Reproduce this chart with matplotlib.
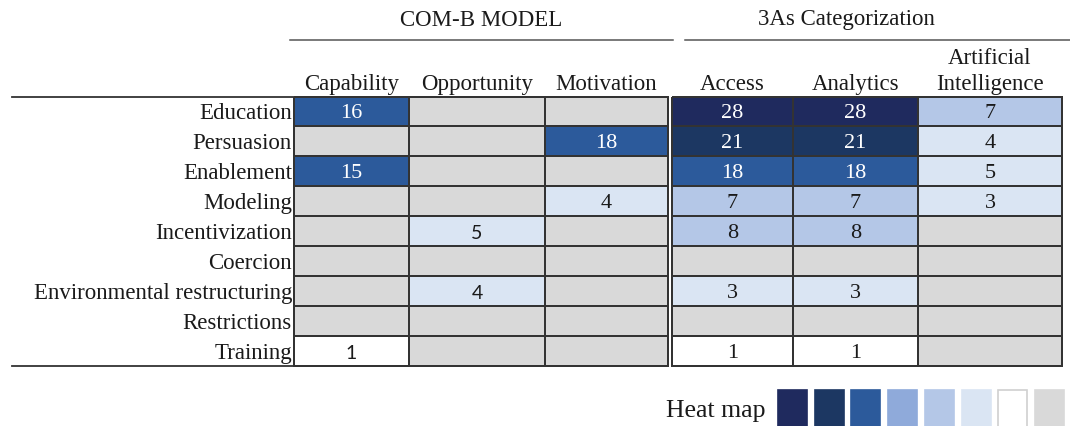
import matplotlib.pyplot as plt
import numpy as np
from matplotlib.colors import ListedColormap, BoundaryNorm
from matplotlib.patches import Rectangle

rows = ["Education", "Persuasion", "Enablement", "Modeling", "Incentivization",
        "Coercion", "Environmental restructuring", "Restrictions", "Training"]
comb_cols = ["Capability", "Opportunity", "Motivation"]
three_as_cols = ["Access", "Analytics", "Artificial\nIntelligence"]

nan = np.nan
comb_values = np.array([
    [16, nan, nan],
    [nan, nan, 18],
    [15, nan, nan],
    [nan, nan, 4],
    [nan, 5, nan],
    [nan, nan, nan],
    [nan, 4, nan],
    [nan, nan, nan],
    [1, nan, nan],
])
three_as_values = np.array([
    [28, 28, 7],
    [21, 21, 4],
    [18, 18, 5],
    [7, 7, 3],
    [8, 8, nan],
    [nan, nan, nan],
    [3, 3, nan],
    [nan, nan, nan],
    [1, 1, nan],
])

# heat map bins, light to dark
bin_edges = [0.5, 2, 6, 9, 15, 20, 25, 30]
bin_colors = ["#ffffff", "#dae5f3", "#b4c7e7", "#8faada", "#2c5a9b", "#1c3762", "#1f2a5e"]
empty_color = "#d9d9d9"

cmap = ListedColormap(bin_colors)
cmap.set_bad(empty_color)
norm = BoundaryNorm(bin_edges, cmap.N)

serif = "Liberation Serif"
sans = "Lato"
# cells whose numbers are set in a sans font in the original
sans_cells = {("comb", 4, 1), ("comb", 6, 1), ("comb", 8, 0)}

fig = plt.figure(figsize=(10.7, 4.27), dpi=100)
ax = fig.add_axes([0, 0, 1, 1])
ax.set_xlim(0, 1070)
ax.set_ylim(427, 0)
ax.axis("off")

y_edges = np.linspace(97.5, 367, len(rows) + 1)
y_mid = (y_edges[:-1] + y_edges[1:]) / 2
line_col = "#333333"
txt_col = "#1a1a1a"

blocks = [
    ("comb", comb_values, np.array([294, 409, 545, 668]), comb_cols),
    ("3as", three_as_values, np.array([672, 793, 918, 1062]), three_as_cols),
]

for name, vals, x_edges, cols in blocks:
    ax.pcolormesh(x_edges, y_edges, np.ma.masked_invalid(vals), cmap=cmap, norm=norm,
                  edgecolors=line_col, linewidth=1.1)
    x_mid = (x_edges[:-1] + x_edges[1:]) / 2
    for j, c in enumerate(cols):
        ax.text(x_mid[j], 90, c, ha="center", va="baseline", fontsize=16.5,
                family=serif, color=txt_col, linespacing=1.3)
    for i in range(vals.shape[0]):
        for j in range(vals.shape[1]):
            v = vals[i, j]
            if np.isnan(v):
                continue
            fam = sans if (name, i, j) in sans_cells else serif
            col = "white" if v >= 15 else txt_col
            ax.text(x_mid[j], y_mid[i] + 1, str(int(v)), ha="center", va="center",
                    fontsize=16 if fam == serif else 14, family=fam, color=col)

# row labels and the rules to their left
for i, r in enumerate(rows):
    ax.text(292, y_mid[i] + 1, r, ha="right", va="center", fontsize=16.5,
            family=serif, color=txt_col)
ax.plot([12, 294], [y_edges[0], y_edges[0]], color=line_col, lw=1.3)
ax.plot([12, 294], [y_edges[-1], y_edges[-1]], color=line_col, lw=1.3)

# group headers
ax.text(481, 20, "COM-B MODEL", ha="center", va="center", fontsize=16.5,
        family=serif, color=txt_col)
ax.plot([290, 673], [40.5, 40.5], color="#555555", lw=1.1)
ax.text(846, 19, "3As Categorization", ha="center", va="center", fontsize=16.5,
        family=serif, color=txt_col)
ax.plot([685, 1070], [40.5, 40.5], color="#555555", lw=1.1)

# heat map legend
legend_colors = bin_colors[::-1] + [empty_color]
sq_x = np.linspace(778, 1035, len(legend_colors))
for k, c in enumerate(legend_colors):
    ec = "#d0d0d0" if c == "#ffffff" else c
    ax.add_patch(Rectangle((sq_x[k], 391), 29, 40, facecolor=c, edgecolor=ec, lw=1.2))
ax.text(765, 411, "Heat map", ha="right", va="center", fontsize=18.5,
        family=serif, color=txt_col)

fig.savefig("out.png", dpi=100)
